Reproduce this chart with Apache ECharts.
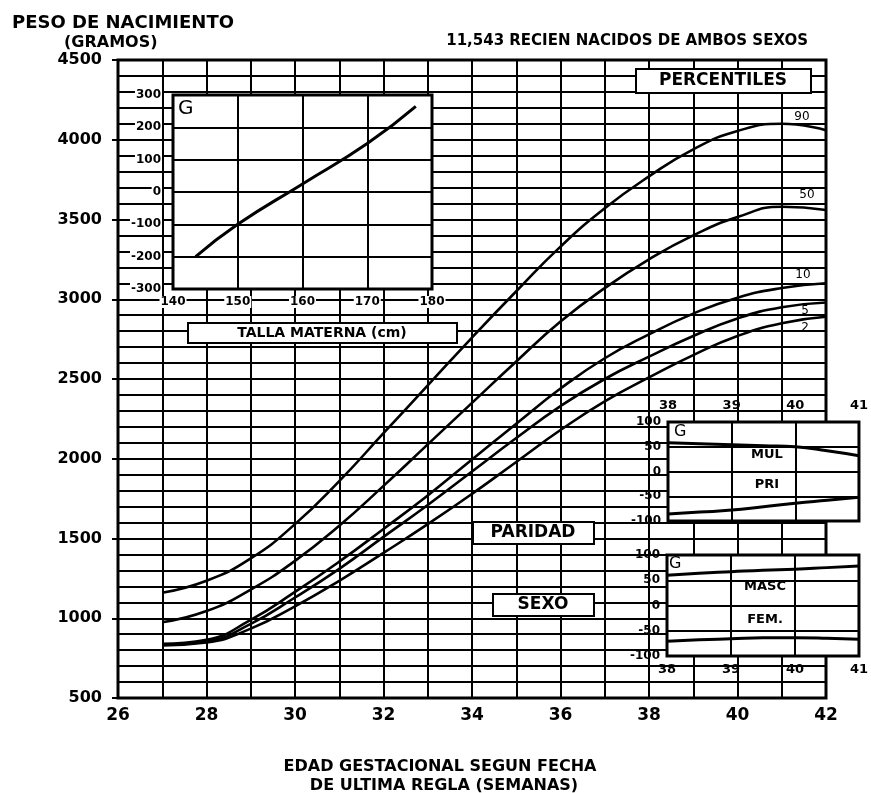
<!DOCTYPE html>
<html><head><meta charset="utf-8">
<script src="https://cdn.jsdelivr.net/npm/echarts@6/dist/echarts.min.js"></script>
<style>html,body{margin:0;padding:0;background:#fff}#c{width:871px;height:793px}</style>
</head><body><div id="c"></div>
<script>
// ---- main chart data (birth weight percentiles, grams, by gestational week) ----
const weeks = [27,28,29,30,31,32,33,34,35,36,37,38,39,40,41,42];
const p90 = [1160,1235,1375,1590,1860,2160,2460,2760,3050,3330,3570,3770,3940,4055,4100,4060];
const p50 = [975,1045,1180,1360,1580,1830,2090,2350,2610,2860,3070,3250,3400,3515,3580,3560];
const p10 = [840,865,990,1165,1355,1560,1770,1995,2220,2440,2630,2780,2910,3010,3070,3100];
const p5  = [835,855,965,1130,1310,1510,1710,1920,2130,2330,2500,2640,2770,2880,2950,2980];
const p2  = [830,848,935,1075,1235,1410,1590,1780,1980,2180,2360,2510,2650,2770,2850,2890];
const pctNames = ['90','50','10','5','2'];

// ---- inset G: talla materna (cm) vs correction (g) ----
const tallaCm = [143.5,150,160,170,177.5];
const tallaG  = [-200,-100,25,150,265];

// ---- inset paridad (38-41 weeks) ----
const insetWeeks = [38,38.5,39,39.5,40,40.5,41];
const mul = [58,56,54,52,50,42,32];
const pri = [-86,-82,-78,-71,-64,-58,-52];
// ---- inset sexo ----
const masc = [60,64,67,70,72,75,78];
const fem  = [-71,-68,-66,-64,-64,-65,-67];

const F = 'DejaVu Sans';
const K = '#000';
const pairs = (xs, ys) => xs.map((x, i) => [x, ys[i]]);
const plain = v => String(v);

const lbl = (size, extra) => Object.assign({color:K, fontFamily:F, fontWeight:'bold', fontSize:size, formatter:plain}, extra || {});
const gridLine = w => ({show:true, lineStyle:{color:K, width:w}});

const chart = echarts.init(document.getElementById('c'), null, {renderer:'canvas'});

const pctSeries = [p90,p50,p10,p5,p2];
const endOff = [[-32,-13],[-27,-15],[-31,-8],[-29,8],[-29,11]];

const option = {
  animation:false,
  backgroundColor:'#fff',
  grid:[
    {left:118, top:60, width:708, height:638, show:true, borderColor:K, borderWidth:3, backgroundColor:'#fff', z:0},
    {left:173, top:95, width:259, height:194, show:true, borderColor:K, borderWidth:3, backgroundColor:'#fff', z:3},
    {left:668, top:422, width:199, height:99, show:true, borderColor:K, borderWidth:3, backgroundColor:'#fff', z:3},
    {left:667, top:555, width:200, height:101, show:true, borderColor:K, borderWidth:3, backgroundColor:'#fff', z:3}
  ],
  xAxis:[
    {gridIndex:0, type:'value', min:26, max:42, interval:2, z:0,
     axisLine:{show:false}, axisTick:{show:false},
     axisLabel:lbl(17,{margin:9}),
     splitLine:gridLine(2), minorTick:{show:false, splitNumber:2}, minorSplitLine:gridLine(2)},
    {gridIndex:1, type:'value', min:140, max:180, interval:10, z:4,
     axisLine:{show:false}, axisTick:{show:false},
     axisLabel:lbl(12,{margin:7, backgroundColor:'#fff', padding:[0,1]}),
     splitLine:gridLine(2)},
    {gridIndex:2, type:'value', min:38, max:41, interval:1, position:'top', z:4,
     axisLine:{show:false}, axisTick:{show:false},
     axisLabel:lbl(13,{margin:10}),
     splitLine:gridLine(2)},
    {gridIndex:3, type:'value', min:38, max:41, interval:1, position:'bottom', z:4,
     axisLine:{show:false}, axisTick:{show:false},
     axisLabel:lbl(13,{margin:7}),
     splitLine:gridLine(2)}
  ],
  yAxis:[
    {gridIndex:0, type:'value', min:500, max:4500, interval:500, z:0,
     axisLine:{show:false}, axisTick:{show:true, length:6, lineStyle:{color:K, width:2}},
     axisLabel:lbl(16,{margin:16}),
     splitLine:gridLine(2), minorTick:{show:false, splitNumber:5}, minorSplitLine:gridLine(1.8)},
    {gridIndex:1, type:'value', min:-300, max:300, interval:100, z:4,
     axisLine:{show:false}, axisTick:{show:false},
     axisLabel:lbl(12,{margin:11, backgroundColor:'#fff', padding:[0,1]}),
     splitLine:gridLine(2)},
    {gridIndex:2, type:'value', min:-100, max:100, interval:50, z:4,
     axisLine:{show:false}, axisTick:{show:false},
     axisLabel:lbl(12,{margin:7}),
     splitLine:gridLine(2)},
    {gridIndex:3, type:'value', min:-100, max:100, interval:50, z:4,
     axisLine:{show:false}, axisTick:{show:false},
     axisLabel:lbl(12,{margin:7}),
     splitLine:gridLine(2)}
  ],
  series:[
    ...pctSeries.map((vals, i) => ({
      name:'P'+pctNames[i], type:'line', xAxisIndex:0, yAxisIndex:0, z:2,
      data:pairs(weeks, vals), smooth:true, showSymbol:false,
      lineStyle:{color:K, width:2.6},
      endLabel:{show:true, formatter:pctNames[i], align:'center', verticalAlign:'middle',
        offset:endOff[i], color:K, fontFamily:F, fontSize:12}
    })),
    {name:'talla', type:'line', xAxisIndex:1, yAxisIndex:1, z:6, data:pairs(tallaCm, tallaG),
     smooth:true, showSymbol:false, lineStyle:{color:K, width:3}},
    {name:'MUL', type:'line', xAxisIndex:2, yAxisIndex:2, z:6, data:pairs(insetWeeks, mul),
     smooth:true, showSymbol:false, lineStyle:{color:K, width:3}},
    {name:'PRI', type:'line', xAxisIndex:2, yAxisIndex:2, z:6, data:pairs(insetWeeks, pri),
     smooth:true, showSymbol:false, lineStyle:{color:K, width:3}},
    {name:'MASC', type:'line', xAxisIndex:3, yAxisIndex:3, z:6, data:pairs(insetWeeks, masc),
     smooth:true, showSymbol:false, lineStyle:{color:K, width:3}},
    {name:'FEM', type:'line', xAxisIndex:3, yAxisIndex:3, z:6, data:pairs(insetWeeks, fem),
     smooth:true, showSymbol:false, lineStyle:{color:K, width:3}}
  ],
  graphic:[
    {type:'text', left:12, top:14, z:10, style:{text:'PESO DE NACIMIENTO', fill:K, font:'bold 18px "DejaVu Sans"'}},
    {type:'text', left:64, top:35, z:10, style:{text:'(GRAMOS)', fill:K, font:'bold 16px "DejaVu Sans"'}},
    {type:'text', right:63, top:34, z:10, style:{text:'11,543 RECIEN NACIDOS DE AMBOS SEXOS', fill:K, font:'bold 15px "DejaVu Sans"'}},
    {type:'group', left:635, top:68, z:10, children:[
      {type:'rect', shape:{x:0,y:0,width:175,height:24}, style:{fill:'#fff', stroke:K, lineWidth:2}, z:10},
      {type:'text', x:87, y:12, z:11, style:{text:'PERCENTILES', fill:K, font:'bold 17px "DejaVu Sans"', align:'center', verticalAlign:'middle'}}
    ]},
    {type:'group', left:187, top:322, z:10, children:[
      {type:'rect', shape:{x:0,y:0,width:269,height:20}, style:{fill:'#fff', stroke:K, lineWidth:2}, z:10},
      {type:'text', x:134, y:10, z:11, style:{text:'TALLA MATERNA (cm)', fill:K, font:'bold 14px "DejaVu Sans"', align:'center', verticalAlign:'middle'}}
    ]},
    {type:'group', left:472, top:521, z:10, children:[
      {type:'rect', shape:{x:0,y:0,width:121,height:22}, style:{fill:'#fff', stroke:K, lineWidth:2}, z:10},
      {type:'text', x:60, y:11, z:11, style:{text:'PARIDAD', fill:K, font:'bold 17px "DejaVu Sans"', align:'center', verticalAlign:'middle'}}
    ]},
    {type:'group', left:492, top:593, z:10, children:[
      {type:'rect', shape:{x:0,y:0,width:101,height:22}, style:{fill:'#fff', stroke:K, lineWidth:2}, z:10},
      {type:'text', x:50, y:11, z:11, style:{text:'SEXO', fill:K, font:'bold 17px "DejaVu Sans"', align:'center', verticalAlign:'middle'}}
    ]},
    {type:'text', left:178, top:99, z:10, style:{text:'G', fill:K, font:'20px "DejaVu Sans"'}},
    {type:'text', left:674, top:424, z:10, style:{text:'G', fill:K, font:'16px "DejaVu Sans"'}},
    {type:'text', left:669, top:556, z:10, style:{text:'G', fill:K, font:'16px "DejaVu Sans"'}},
    {type:'text', x:767, y:455, z:10, style:{text:'MUL', fill:K, font:'bold 13px "DejaVu Sans"', align:'center', verticalAlign:'middle'}},
    {type:'text', x:767, y:485, z:10, style:{text:'PRI', fill:K, font:'bold 13px "DejaVu Sans"', align:'center', verticalAlign:'middle'}},
    {type:'text', x:765, y:587, z:10, style:{text:'MASC', fill:K, font:'bold 13px "DejaVu Sans"', align:'center', verticalAlign:'middle'}},
    {type:'text', x:765, y:620, z:10, style:{text:'FEM.', fill:K, font:'bold 13px "DejaVu Sans"', align:'center', verticalAlign:'middle'}},
    {type:'text', x:440, y:767, z:10, style:{text:'EDAD GESTACIONAL SEGUN FECHA', fill:K, font:'bold 16px "DejaVu Sans"', align:'center', verticalAlign:'middle'}},
    {type:'text', x:444, y:786, z:10, style:{text:'DE ULTIMA REGLA (SEMANAS)', fill:K, font:'bold 16px "DejaVu Sans"', align:'center', verticalAlign:'middle'}}
  ]
};
chart.setOption(option);
</script></body></html>
